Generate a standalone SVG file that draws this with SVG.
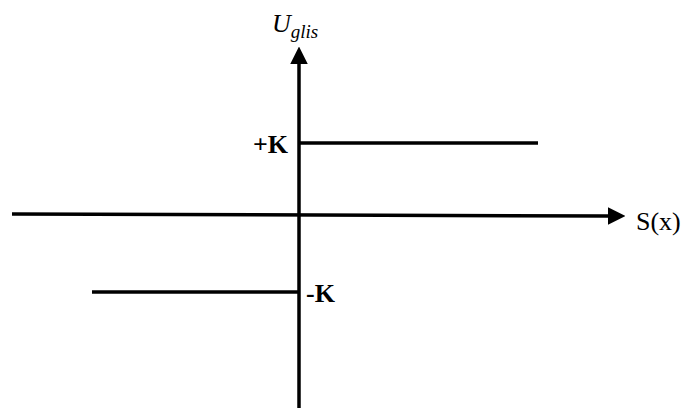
<svg xmlns="http://www.w3.org/2000/svg" width="686" height="408" viewBox="0 0 686 408">
<style>
.ax{stroke:#000;stroke-width:3.5;fill:none}
.lv{stroke:#000;stroke-width:3.5;fill:none}
.lbl{font-family:"Liberation Serif","Times New Roman",serif;fill:#000}
.b{font-weight:bold;font-size:26px}
</style>
<defs>
<marker id="ah" markerWidth="5" markerHeight="5" refX="0" refY="2.5" orient="auto" markerUnits="strokeWidth">
<path d="M0,0 L5,2.5 L0,5 Z" fill="#000"/>
</marker>
</defs>
<g id="connectors">
<line class="ax" x1="12" y1="214" x2="608" y2="216" marker-end="url(#ah)"/>
<line class="ax" x1="299" y1="408" x2="299" y2="64" marker-end="url(#ah)"/>
</g>
<g id="plus-k">
<line class="lv" x1="299" y1="143" x2="538" y2="143"/>
<text class="lbl b" x="253" y="153">+K</text>
</g>
<g id="minus-k">
<line class="lv" x1="92" y1="292" x2="299" y2="292"/>
<text class="lbl b" x="306" y="302">-K</text>
</g>
<g id="s-label">
<text class="lbl" x="636" y="230" font-size="26">S(x)</text>
</g>
<g id="u-label">
<text class="lbl" font-style="italic" x="272" y="32" font-size="26">U<tspan font-size="19" dy="6">glis</tspan></text>
</g>
</svg>
